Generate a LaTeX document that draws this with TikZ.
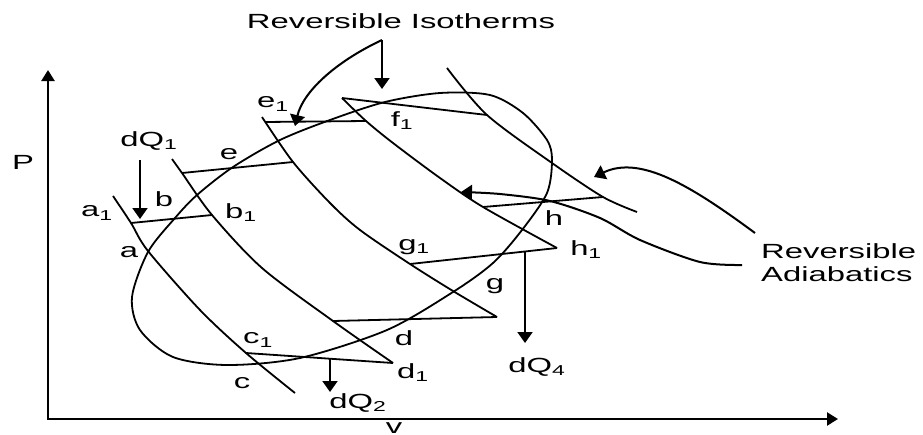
\documentclass[tikz,border=0pt]{standalone}
\usepackage{fontspec}
\newfontfamily\lbf[FakeStretch=1.6]{Liberation Sans}
\usetikzlibrary{arrows.meta}
\begin{document}
\begin{tikzpicture}[x=1pt,y=-1pt,
  curve/.style={line width=1.8pt, line join=round},
  axisline/.style={line width=2.4pt, {Triangle[length=11pt,width=13pt]}-{Triangle[length=11pt,width=13pt]}},
  ptr/.style={line width=2pt, -{Triangle[length=11pt,width=15pt]}},
  lbl/.style={font=\lbf\fontsize{20.5}{23}\selectfont, inner sep=0pt}]
\useasboundingbox (0,0) rectangle (923,434);

% axes
\coordinate (O) at (48,419);
\coordinate (Ytip) at (48,70);
\coordinate (Xtip) at (838,419);
\draw[axisline] (Ytip) -- (O) -- (Xtip);

% adiabat 1
\coordinate (A1t) at (113,196);
\coordinate (bL) at (131,223);
\coordinate (aX) at (148,251);
\coordinate (A1m) at (200,310);
\coordinate (cL) at (246,353);
\coordinate (A1e) at (295,393);
\draw[curve] plot[smooth] coordinates {(A1t) (bL) (aX) (A1m) (cL) (A1e)};

% adiabat 2
\coordinate (A2t) at (172,159);
\coordinate (eL) at (182,173);
\coordinate (bR) at (212,215);
\coordinate (A2m) at (262,268);
\coordinate (dL) at (333,321);
\coordinate (d1A) at (393,363);
\draw[curve] plot[smooth] coordinates {(A2t) (eL) (bR) (A2m) (dL) (d1A)};

% adiabat 3
\coordinate (A3t) at (262,117);
\coordinate (e1L) at (265,122);
\coordinate (eR) at (293,162);
\coordinate (A3m) at (330,203);
\coordinate (A3n) at (360,230);
\coordinate (gL) at (410,264);
\coordinate (A3o) at (453,291);
\coordinate (gA) at (497,317);
\draw[curve] plot[smooth] coordinates {(A3t) (eR) (A3m) (A3n) (gL) (A3o) (gA)};

% adiabat 4
\coordinate (f1A) at (342,98);
\coordinate (e1R) at (366,121);
\coordinate (A4m) at (393,143);
\coordinate (A4n) at (440,178);
\coordinate (hL) at (483,207);
\coordinate (h1A) at (557,248);
\draw[curve] plot[smooth] coordinates {(f1A) (e1R) (A4m) (A4n) (hL) (h1A)};

% adiabat 5
\coordinate (A5t) at (447,68);
\coordinate (fR) at (487,115);
\coordinate (A5m) at (552,163);
\coordinate (hR) at (603,197);
\coordinate (A5e) at (637,212);
\draw[curve] plot[smooth] coordinates {(A5t) (fR) (A5m) (hR) (A5e)};

% isotherm segments
\draw[curve] (bL) -- (bR);
\draw[curve] (cL) -- (d1A);
\draw[curve] (eL) -- (eR);
\draw[curve] (dL) -- (gA);
\draw[curve] (e1L) -- (e1R);
\draw[curve] (gL) -- (h1A);
\draw[curve] (f1A) -- (fR);
\draw[curve] (hL) -- (hR);

% cycle
\draw[curve] plot[smooth cycle] coordinates {
 (132,297) (148,252) (175,218) (197,195) (233,167) (280,140) (330,120)
 (385,102) (440,93) (490,95) (523,113) (547,140) (552,160) (547,193)
 (522,230) (493,263) (453,292) (387,330) (300,358) (227,365) (173,357) (140,330)};

% heat arrows
\coordinate (q1s) at (140,160); \coordinate (q1e) at (140,219);
\coordinate (q2s) at (330,359); \coordinate (q2e) at (330,392);
\coordinate (q4s) at (525,251); \coordinate (q4e) at (525,343);
\draw[ptr] (q1s) -- (q1e);
\draw[ptr] (q2s) -- (q2e);
\draw[ptr] (q4s) -- (q4e);

% labels
\node[lbl] (Pl) at (23,162) {P};
\node[lbl] (vl) at (394,428) {v};
\node[lbl] (RI) at (401,21) {Reversible Isotherms};
\node[lbl, anchor=base west] (RA1) at (761,258) {Reversible};
\node[lbl, anchor=base west] (RA2) at (761,281) {Adiabatics};
\node[lbl] (dQ1) at (149,141) {dQ\textsubscript{1}};
\node[lbl] (dQ2) at (358,403) {dQ\textsubscript{2}};
\node[lbl] (dQ4) at (537,367) {dQ\textsubscript{4}};
\node[lbl] (la1) at (97,213) {a\textsubscript{1}};
\node[lbl] (la) at (129,252) {a};
\node[lbl] (lb) at (164,199) {b};
\node[lbl] (lb1) at (241,213) {b\textsubscript{1}};
\node[lbl] (le) at (229,154) {e};
\node[lbl] (le1) at (273,104) {e\textsubscript{1}};
\node[lbl] (lf1) at (402,121) {f\textsubscript{1}};
\node[lbl] (lg1) at (414,247) {g\textsubscript{1}};
\node[lbl] (lg) at (495,286) {g};
\node[lbl] (lh) at (554,218) {h};
\node[lbl] (lh1) at (586,250) {h\textsubscript{1}};
\node[lbl] (ld) at (404,338) {d};
\node[lbl] (ld1) at (413,373) {d\textsubscript{1}};
\node[lbl] (lc1) at (258,340) {c\textsubscript{1}};
\node[lbl] (lc) at (242,383) {c};

% pointers of the titles
\coordinate (iso) at (382,40);
\coordinate (isoA) at (382,89);
\coordinate (isoB) at (295,126);
\draw[ptr] (iso) -- (isoA);
\draw[ptr] (iso) .. controls (335,62) and (303,92) .. (isoB);
\coordinate (ad1s) at (755,233);
\coordinate (ad1e) at (594,177);
\draw[ptr] (ad1s) .. controls (690,185) and (640,155) .. (ad1e);
\coordinate (ad2s) at (742,265);
\coordinate (ad2e) at (461,192);
\draw[ptr] plot[smooth] coordinates {(ad2s) (700,262) (640,240) (600,218) (550,201) (500,194) (ad2e)};
\end{tikzpicture}
\end{document}
